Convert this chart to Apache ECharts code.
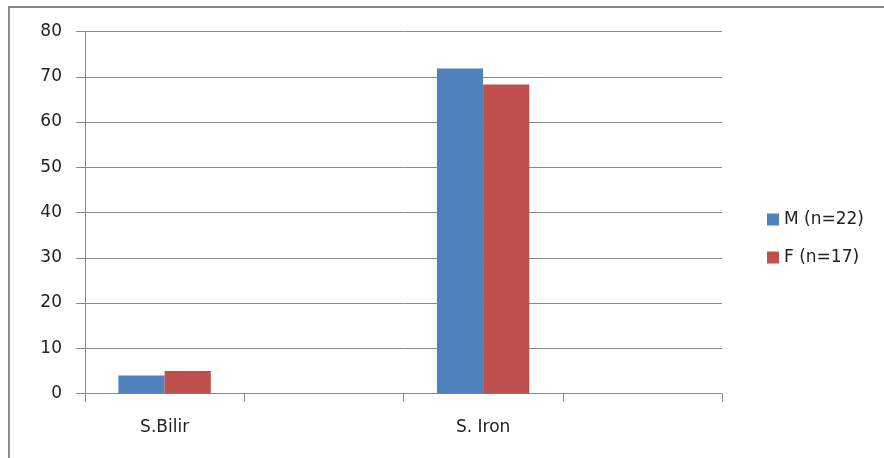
<!DOCTYPE html>
<html>
<head>
<meta charset="utf-8">
<script src="https://cdn.jsdelivr.net/npm/echarts@6/dist/echarts.min.js"></script>
<style>
  html, body { margin: 0; padding: 0; background: #fff; }
  #chart { width: 884px; height: 458px; }
</style>
</head>
<body>
<div id="chart"></div>
<script>
// Serum bilirubin / serum iron by sex
const categories = ['S.Bilir', '', 'S. Iron', ''];
const maleValues = [4.0, null, 71.8, null];
const femaleValues = [5.0, null, 68.3, null];
const seriesNames = ['M (n=22)', 'F (n=17)'];
const yTicks = { min: 0, max: 80, interval: 10 };

const font = '"DejaVu Sans", sans-serif';
const chart = echarts.init(document.getElementById('chart'));

chart.setOption({
  animation: false,
  backgroundColor: '#ffffff',
  graphic: [{
    type: 'rect',
    shape: { x: 9, y: 7, width: 900, height: 520 },
    style: { fill: 'none', stroke: '#8a8a8a', lineWidth: 2 },
    silent: true
  }],
  grid: { left: 85, right: 162, top: 31.5, bottom: 64.5, containLabel: false },
  legend: {
    orient: 'vertical',
    left: 762,
    top: 206,
    itemWidth: 12,
    itemHeight: 12,
    itemGap: 21,
    icon: 'rect',
    textStyle: { fontFamily: font, fontSize: 17, color: '#222' },
    data: seriesNames
  },
  xAxis: {
    type: 'category',
    data: categories,
    axisLine: { lineStyle: { color: '#8a8a8a', width: 1 } },
    axisTick: { show: true, length: 8, alignWithLabel: false, lineStyle: { color: '#8a8a8a' } },
    axisLabel: { margin: 26, fontFamily: font, fontSize: 17, color: '#222', interval: 0 }
  },
  yAxis: {
    type: 'value',
    min: yTicks.min,
    max: yTicks.max,
    interval: yTicks.interval,
    axisLine: { show: true, lineStyle: { color: '#8a8a8a', width: 1 } },
    axisTick: { show: true, length: 9, lineStyle: { color: '#8a8a8a' } },
    axisLabel: { margin: 23, fontFamily: font, fontSize: 17, color: '#222' },
    splitLine: { show: true, lineStyle: { color: '#8a8a8a', width: 1 } }
  },
  series: [
    {
      name: seriesNames[0],
      type: 'bar',
      data: maleValues,
      barGap: '0%',
      barCategoryGap: '42%',
      itemStyle: { color: '#4f81bd' }
    },
    {
      name: seriesNames[1],
      type: 'bar',
      data: femaleValues,
      barGap: '0%',
      barCategoryGap: '42%',
      itemStyle: { color: '#c0504d' }
    }
  ]
});
</script>
</body>
</html>
